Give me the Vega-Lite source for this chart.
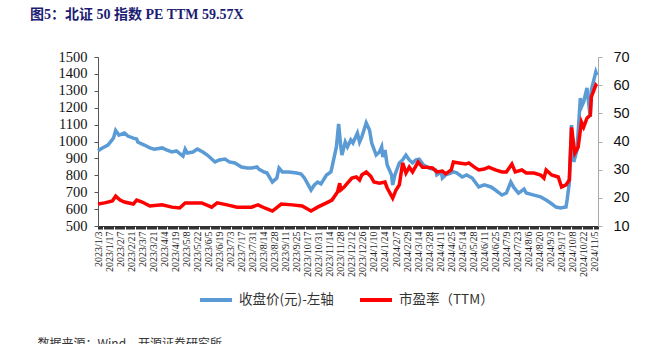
{
  "$schema": "https://vega.github.io/schema/vega-lite/v6.json",
  "autosize": {"type": "none"},
  "width": 500,
  "height": 169,
  "padding": {"left": 98, "top": 57, "right": 69, "bottom": 118},
  "background": "white",
  "title": {
    "text": "图5：北证 50 指数 PE TTM 59.57X",
    "anchor": "start",
    "frame": "group",
    "dx": -68,
    "offset": 27,
    "font": "Liberation Serif, Noto Sans CJK SC",
    "fontSize": 14,
    "fontWeight": "bold",
    "color": "#1c1c72"
  },
  "datasets": {
    "price": [
      {"i": 0, "v": 945}, {"i": 4, "v": 962}, {"i": 9, "v": 979}, {"i": 14, "v": 1020}, {"i": 16, "v": 1065},
      {"i": 19, "v": 1038}, {"i": 24, "v": 1050}, {"i": 27, "v": 1032}, {"i": 32, "v": 1020}, {"i": 35, "v": 1015},
      {"i": 36, "v": 997}, {"i": 42, "v": 979}, {"i": 47, "v": 962}, {"i": 51, "v": 955}, {"i": 58, "v": 962},
      {"i": 62, "v": 950}, {"i": 67, "v": 938}, {"i": 71, "v": 944}, {"i": 77, "v": 914}, {"i": 79, "v": 955},
      {"i": 81, "v": 932}, {"i": 86, "v": 938}, {"i": 90, "v": 955}, {"i": 95, "v": 938}, {"i": 99, "v": 920},
      {"i": 106, "v": 879}, {"i": 110, "v": 891}, {"i": 115, "v": 896}, {"i": 119, "v": 879}, {"i": 124, "v": 873},
      {"i": 130, "v": 849}, {"i": 135, "v": 843}, {"i": 139, "v": 843}, {"i": 144, "v": 849}, {"i": 146, "v": 835},
      {"i": 151, "v": 818}, {"i": 153, "v": 815}, {"i": 158, "v": 760}, {"i": 162, "v": 784}, {"i": 164, "v": 843},
      {"i": 167, "v": 820}, {"i": 173, "v": 820}, {"i": 180, "v": 814}, {"i": 184, "v": 808}, {"i": 187, "v": 784},
      {"i": 190, "v": 749}, {"i": 193, "v": 713}, {"i": 196, "v": 743}, {"i": 199, "v": 760}, {"i": 202, "v": 749},
      {"i": 207, "v": 802}, {"i": 211, "v": 820}, {"i": 212, "v": 849}, {"i": 215, "v": 938}, {"i": 216, "v": 968},
      {"i": 218, "v": 1104}, {"i": 220, "v": 968}, {"i": 221, "v": 920}, {"i": 224, "v": 997}, {"i": 226, "v": 968},
      {"i": 229, "v": 1009}, {"i": 231, "v": 991}, {"i": 235, "v": 1050}, {"i": 237, "v": 997}, {"i": 239, "v": 1027},
      {"i": 243, "v": 1110}, {"i": 246, "v": 1068}, {"i": 248, "v": 991}, {"i": 252, "v": 920}, {"i": 255, "v": 938},
      {"i": 257, "v": 968}, {"i": 258, "v": 908}, {"i": 260, "v": 950}, {"i": 262, "v": 861}, {"i": 266, "v": 802},
      {"i": 267, "v": 743}, {"i": 269, "v": 802}, {"i": 273, "v": 873}, {"i": 276, "v": 891}, {"i": 279, "v": 920},
      {"i": 282, "v": 891}, {"i": 285, "v": 873}, {"i": 288, "v": 891}, {"i": 291, "v": 895}, {"i": 295, "v": 861},
      {"i": 300, "v": 843}, {"i": 306, "v": 831}, {"i": 307, "v": 802}, {"i": 311, "v": 820}, {"i": 312, "v": 784},
      {"i": 315, "v": 802}, {"i": 320, "v": 814}, {"i": 322, "v": 820}, {"i": 325, "v": 814}, {"i": 330, "v": 790},
      {"i": 334, "v": 802}, {"i": 339, "v": 784}, {"i": 345, "v": 731}, {"i": 350, "v": 743}, {"i": 356, "v": 731},
      {"i": 360, "v": 713}, {"i": 366, "v": 683}, {"i": 370, "v": 695}, {"i": 374, "v": 760}, {"i": 377, "v": 725},
      {"i": 381, "v": 695}, {"i": 386, "v": 719}, {"i": 388, "v": 695}, {"i": 395, "v": 683}, {"i": 401, "v": 672},
      {"i": 406, "v": 654}, {"i": 410, "v": 636}, {"i": 415, "v": 612}, {"i": 419, "v": 607}, {"i": 424, "v": 612},
      {"i": 425, "v": 654}, {"i": 427, "v": 754}, {"i": 429, "v": 1097}, {"i": 430, "v": 991}, {"i": 431, "v": 879},
      {"i": 434, "v": 950}, {"i": 437, "v": 1257}, {"i": 438, "v": 1204}, {"i": 440, "v": 1234}, {"i": 443, "v": 1317},
      {"i": 444, "v": 1257}, {"i": 446, "v": 1145}, {"i": 447, "v": 1305}, {"i": 451, "v": 1411}, {"i": 452, "v": 1393}
    ],
    "pe": [
      {"i": 0, "v": 17.8}, {"i": 6, "v": 18.2}, {"i": 13, "v": 18.9}, {"i": 16, "v": 20.6}, {"i": 20, "v": 19.2},
      {"i": 24, "v": 18.5}, {"i": 32, "v": 17.8}, {"i": 35, "v": 19.2}, {"i": 40, "v": 18.5}, {"i": 47, "v": 17.1},
      {"i": 58, "v": 17.5}, {"i": 67, "v": 16.7}, {"i": 74, "v": 16.4}, {"i": 79, "v": 18.2}, {"i": 88, "v": 18.2},
      {"i": 94, "v": 18.2}, {"i": 103, "v": 16.7}, {"i": 108, "v": 18.2}, {"i": 117, "v": 17.5}, {"i": 126, "v": 16.7},
      {"i": 139, "v": 16.7}, {"i": 145, "v": 17.5}, {"i": 151, "v": 16.4}, {"i": 158, "v": 15.3}, {"i": 166, "v": 17.8},
      {"i": 176, "v": 17.5}, {"i": 185, "v": 17.1}, {"i": 193, "v": 15.3}, {"i": 199, "v": 16.7}, {"i": 207, "v": 18.2},
      {"i": 212, "v": 19.2}, {"i": 217, "v": 22.1}, {"i": 219, "v": 25.2}, {"i": 220, "v": 22.8}, {"i": 223, "v": 23.8},
      {"i": 226, "v": 25.2}, {"i": 230, "v": 27.0}, {"i": 234, "v": 27.4}, {"i": 237, "v": 26.3}, {"i": 239, "v": 28.1},
      {"i": 243, "v": 29.2}, {"i": 247, "v": 27.7}, {"i": 250, "v": 25.6}, {"i": 255, "v": 25.2}, {"i": 260, "v": 25.6},
      {"i": 262, "v": 23.5}, {"i": 267, "v": 19.9}, {"i": 270, "v": 22.8}, {"i": 273, "v": 24.6}, {"i": 276, "v": 32.4},
      {"i": 279, "v": 28.8}, {"i": 282, "v": 30.9}, {"i": 285, "v": 29.2}, {"i": 290, "v": 32.7}, {"i": 294, "v": 30.9},
      {"i": 297, "v": 30.9}, {"i": 303, "v": 30.6}, {"i": 307, "v": 29.2}, {"i": 312, "v": 29.5}, {"i": 315, "v": 28.5},
      {"i": 320, "v": 29.9}, {"i": 322, "v": 32.7}, {"i": 327, "v": 32.4}, {"i": 333, "v": 32.0}, {"i": 336, "v": 32.4},
      {"i": 341, "v": 30.9}, {"i": 345, "v": 29.9}, {"i": 350, "v": 30.2}, {"i": 354, "v": 30.9}, {"i": 360, "v": 29.9},
      {"i": 366, "v": 29.2}, {"i": 370, "v": 29.2}, {"i": 375, "v": 32.0}, {"i": 378, "v": 29.2}, {"i": 384, "v": 29.9},
      {"i": 388, "v": 28.8}, {"i": 395, "v": 28.8}, {"i": 401, "v": 28.1}, {"i": 404, "v": 27.0}, {"i": 406, "v": 29.9},
      {"i": 411, "v": 28.1}, {"i": 417, "v": 27.4}, {"i": 420, "v": 23.8}, {"i": 424, "v": 24.6}, {"i": 427, "v": 26.3},
      {"i": 429, "v": 45.0}, {"i": 432, "v": 35.9}, {"i": 435, "v": 38.0}, {"i": 438, "v": 46.9}, {"i": 440, "v": 45.1},
      {"i": 443, "v": 48.3}, {"i": 446, "v": 49.4}, {"i": 447, "v": 55.8}, {"i": 451, "v": 60.0}, {"i": 452, "v": 59.57}
    ]
  },
  "layer": [
    {
      "data": {"name": "price"},
      "mark": {"type": "line", "strokeWidth": 3.5},
      "encoding": {
        "x": {
          "field": "i",
          "type": "quantitative",
          "scale": {"domain": [0, 453], "nice": false, "zero": false},
          "axis": {
            "tickCount": 453,
            "labelOverlap": false,
            "labelExpr": "datum.value % 10 === 0 ? ['2023/1/3','2023/1/17','2023/2/7','2023/2/21','2023/3/7','2023/3/21','2023/4/4','2023/4/19','2023/5/8','2023/5/22','2023/6/5','2023/6/19','2023/7/3','2023/7/17','2023/7/31','2023/8/14','2023/8/28','2023/9/11','2023/9/25','2023/10/17','2023/10/31','2023/11/14','2023/11/28','2023/12/12','2023/12/26','2024/1/10','2024/1/24','2024/2/7','2024/2/29','2024/3/14','2024/3/28','2024/4/11','2024/4/25','2024/5/14','2024/5/28','2024/6/11','2024/6/25','2024/7/9','2024/7/23','2024/8/6','2024/8/20','2024/9/3','2024/9/17','2024/10/8','2024/10/22','2024/11/5'][datum.value / 10] : ''",
            "labelAngle": -90,
            "labelAlign": "right",
            "labelBaseline": "middle",
            "labelFont": "Liberation Serif",
            "labelFontSize": 10,
            "labelColor": "#222222",
            "labelPadding": 2,
            "labelBound": false,
            "labelFlush": false,
            "tickSize": 3,
            "tickColor": "#333333",
            "domainColor": "#333333",
            "grid": false,
            "title": "数据来源：Wind，开源证券研究所",
            "titleX": -61,
            "titleY": 112,
            "titleAnchor": "start",
            "titleAlign": "left",
            "titleBaseline": "top",
            "titleFont": "Noto Sans CJK SC",
            "titleFontSize": 12,
            "titleFontWeight": "normal",
            "titleColor": "#333333"
          }
        },
        "y": {
          "field": "v",
          "type": "quantitative",
          "scale": {"domain": [500, 1500], "nice": false, "zero": false},
          "axis": {
            "orient": "left",
            "values": [500, 600, 700, 800, 900, 1000, 1100, 1200, 1300, 1400, 1500],
            "format": "d",
            "labelFont": "Liberation Serif",
            "labelFontSize": 14.5,
            "labelColor": "#111111",
            "labelPadding": 7,
            "tickSize": 4,
            "tickColor": "#555555",
            "domainColor": "#555555",
            "grid": false,
            "title": null
          }
        },
        "color": {
          "datum": "收盘价(元)-左轴",
          "type": "nominal",
          "scale": {"domain": ["收盘价(元)-左轴", "市盈率（TTM）"], "range": ["#5b9bd5", "#ff0000"]},
          "legend": {
            "orient": "none",
            "legendX": 100,
            "legendY": 225,
            "direction": "horizontal",
            "title": null,
            "symbolType": "stroke",
            "symbolStrokeWidth": 4,
            "symbolSize": 1024,
            "labelFont": "Noto Sans CJK SC",
            "labelFontSize": 13.5,
            "labelColor": "#333333",
            "labelOffset": 5,
            "columnPadding": 18
          }
        }
      }
    },
    {
      "data": {"name": "pe"},
      "mark": {"type": "line", "strokeWidth": 3.5},
      "encoding": {
        "x": {"field": "i", "type": "quantitative"},
        "y": {
          "field": "v",
          "type": "quantitative",
          "scale": {"domain": [10, 70], "nice": false, "zero": false},
          "axis": {
            "orient": "right",
            "values": [10, 20, 30, 40, 50, 60, 70],
            "labelFont": "Liberation Sans",
            "labelFontSize": 14.5,
            "labelColor": "#111111",
            "labelPadding": 11,
            "tickSize": 4,
            "tickColor": "#aaaaaa",
            "domainColor": "#aaaaaa",
            "grid": false,
            "title": null
          }
        },
        "color": {"datum": "市盈率（TTM）", "type": "nominal"}
      }
    }
  ],
  "resolve": {"scale": {"y": "independent"}},
  "config": {"view": {"stroke": null}}
}
